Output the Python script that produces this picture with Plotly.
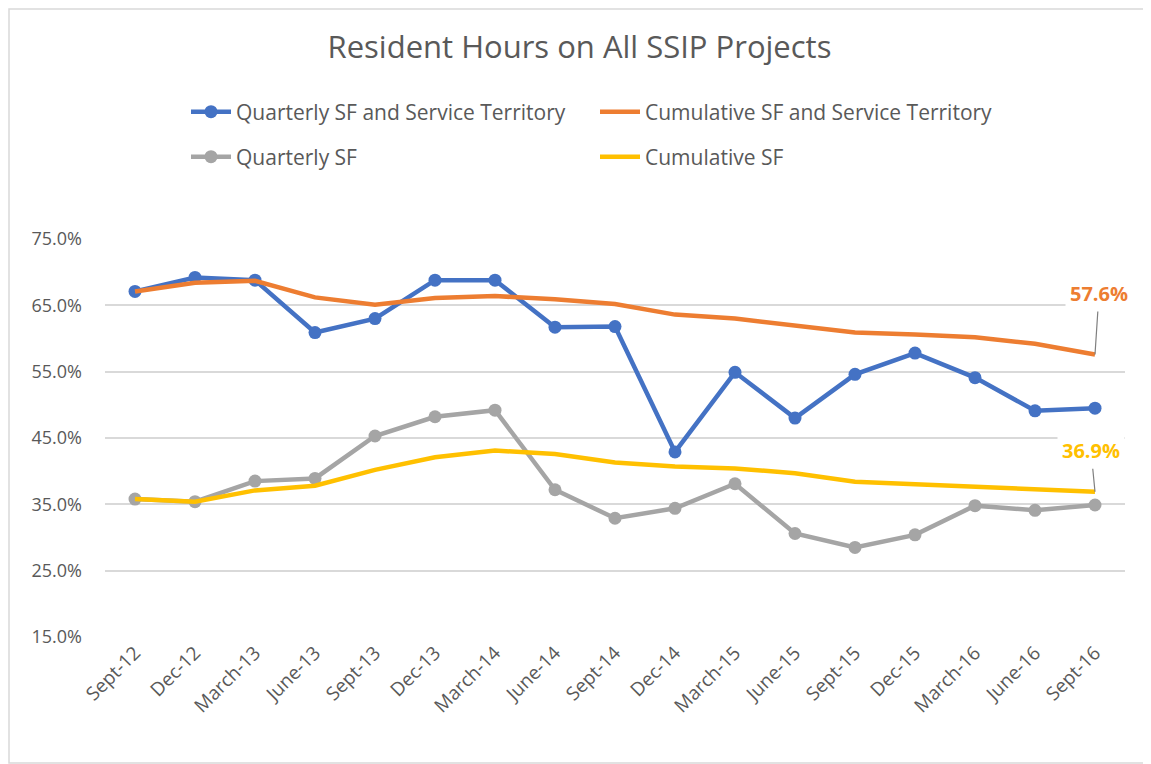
import plotly.graph_objects as go

categories = ["Sept-12", "Dec-12", "March-13", "June-13", "Sept-13", "Dec-13", "March-14",
              "June-14", "Sept-14", "Dec-14", "March-15", "June-15", "Sept-15", "Dec-15",
              "March-16", "June-16", "Sept-16"]

quarterly_sf_st = [0.671, 0.692, 0.688, 0.609, 0.630, 0.688, 0.688, 0.617, 0.618, 0.429,
                   0.549, 0.480, 0.546, 0.578, 0.541, 0.491, 0.495]
cumulative_sf_st = [0.671, 0.684, 0.687, 0.662, 0.651, 0.661, 0.664, 0.659, 0.652, 0.636,
                    0.630, 0.619, 0.609, 0.606, 0.602, 0.592, 0.576]
quarterly_sf = [0.358, 0.354, 0.385, 0.389, 0.453, 0.482, 0.492, 0.372, 0.329, 0.344,
                0.381, 0.306, 0.285, 0.304, 0.348, 0.341, 0.349]
cumulative_sf = [0.358, 0.354, 0.371, 0.378, 0.402, 0.421, 0.431, 0.426, 0.413, 0.407,
                 0.404, 0.397, 0.384, 0.380, 0.377, 0.372, 0.369]

y_ticks = [0.15, 0.25, 0.35, 0.45, 0.55, 0.65, 0.75]

GRAY_TXT = "#595959"
FONT = "Open Sans"

fig = go.Figure()
fig.add_trace(go.Scatter(x=categories, y=quarterly_sf_st, mode="lines+markers",
                         name="Quarterly SF and Service Territory",
                         line=dict(color="#4472C4", width=4.5),
                         marker=dict(size=13, color="#4472C4"), legend="legend"))
fig.add_trace(go.Scatter(x=categories, y=cumulative_sf_st, mode="lines",
                         name="Cumulative SF and Service Territory",
                         line=dict(color="#ED7D31", width=4.5), legend="legend"))
fig.add_trace(go.Scatter(x=categories, y=quarterly_sf, mode="lines+markers",
                         name="Quarterly SF",
                         line=dict(color="#A5A5A5", width=4.5),
                         marker=dict(size=13, color="#A5A5A5"), legend="legend2"))
fig.add_trace(go.Scatter(x=categories, y=cumulative_sf, mode="lines",
                         name="Cumulative SF",
                         line=dict(color="#FFC000", width=4.5), legend="legend2"))

# Data labels for last points
fig.add_annotation(x=categories[-1], y=cumulative_sf_st[-1], text="<b>57.6%</b>",
                   showarrow=True, arrowhead=0, arrowwidth=1.2, arrowcolor="#7f7f7f",
                   ax=4, ay=-61, bgcolor="white", borderpad=4,
                   font=dict(family=FONT, size=20, color="#ED7D31"))
fig.add_annotation(x=categories[-1], y=cumulative_sf[-1], text="<b>36.9%</b>",
                   showarrow=True, arrowhead=0, arrowwidth=1.2, arrowcolor="#7f7f7f",
                   ax=-4, ay=-41, bgcolor="white", borderpad=4,
                   font=dict(family=FONT, size=20, color="#FFC000"))

# page has an 8px body margin; figure sized to fill the rest of the window
W, H = 1143, 756
L, R, T, B = 97, 26, 231, 127
pw, ph = W - L - R, H - T - B

def px_x(p):
    return (p - L) / pw

def px_y(p):
    return (T + ph - p) / ph

# outer chart border
fig.add_shape(type="rect", xref="paper", yref="paper",
              x0=px_x(1), x1=px_x(1140), y0=px_y(755), y1=px_y(1),
              line=dict(color="#d9d9d9", width=1.5), layer="below")

legend_common = dict(orientation="h", xref="container", yref="container",
                     xanchor="left", yanchor="middle", entrywidth=354,
                     entrywidthmode="pixels", itemwidth=40,
                     font=dict(family=FONT, size=21, color=GRAY_TXT),
                     bgcolor="rgba(0,0,0,0)")

fig.update_layout(
    width=W, height=H,
    margin=dict(l=L, r=R, t=T, b=B),
    paper_bgcolor="white", plot_bgcolor="white",
    font=dict(family=FONT, color=GRAY_TXT),
    title=dict(text="Resident Hours on All SSIP Projects", x=0.5, xref="container",
               xanchor="center", y=1 - 39 / H, yref="container", yanchor="middle",
               font=dict(family=FONT, size=31, color=GRAY_TXT)),
    legend=dict(x=178 / W, y=1 - 104 / H, **legend_common),
    legend2=dict(x=178 / W, y=1 - 149 / H, **legend_common),
    xaxis=dict(type="category", range=[-0.5, len(categories) - 0.5],
               tickangle=-45, showgrid=False, showline=False, ticks="",
               tickfont=dict(family=FONT, size=19, color=GRAY_TXT)),
    yaxis=dict(range=[0.15, 0.75], tickvals=y_ticks, tickformat=".1%",
               showgrid=True, gridcolor="#d9d9d9", gridwidth=1.5,
               zeroline=False, showline=False, ticks="", ticklabelstandoff=22,
               tickfont=dict(family=FONT, size=18, color=GRAY_TXT)),
)

fig.write_html("out.html")
